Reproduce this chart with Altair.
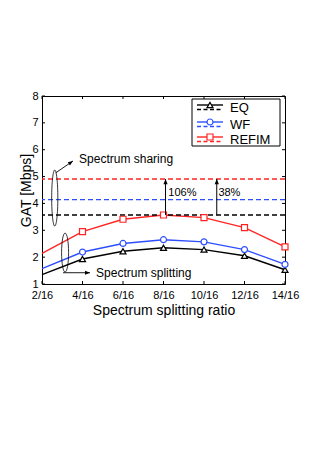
import altair as alt
import pandas as pd

# ---------------- data ----------------
ratios = [2, 4, 6, 8, 10, 12, 14]
series = ["EQ", "WF", "REFIM"]
eq_split = [1.35, 1.93, 2.22, 2.35, 2.28, 2.05, 1.53]
wf_split = [1.57, 2.19, 2.51, 2.65, 2.57, 2.28, 1.73]
refim_split = [2.14, 2.95, 3.41, 3.57, 3.47, 3.10, 2.38]
sharing = [3.57, 4.14, 4.91]          # EQ, WF, REFIM spectrum-sharing levels
y_ticks = [1, 2, 3, 4, 5, 6, 7, 8]
gain_x = [8.1, 10.63]
gain_from = [3.57, 3.57]
gain_to = [4.91, 4.91]
gain_labels = ["106%", "38%"]
gain_label_x = [8.24, 10.71]
gain_label_y = [4.40, 4.40]

colors = ["#000000", "#2f4fff", "#ff2424"]
shapes = ["triangle-up", "circle", "square"]
FONT = "Liberation Sans"
W, H = 243, 188

rows = []
for s, vals in zip(series, [eq_split, wf_split, refim_split]):
    for r, v in zip(ratios, vals):
        rows.append({"series": s, "ratio": r, "gat": v})
df = pd.DataFrame(rows)
df_pts = df[df["ratio"] >= 4]
df_share = pd.DataFrame({"series": series, "gat": sharing})

xs = alt.Scale(domain=[2, 14], nice=False, zero=False)
ys = alt.Scale(domain=[1, 8], nice=False, zero=False)
cs = alt.Scale(domain=series, range=colors)
ss = alt.Scale(domain=series, range=shapes)

X = lambda f: alt.X(f, type="quantitative", scale=xs)
Y = lambda f: alt.Y(f, type="quantitative", scale=ys)

lines = alt.Chart(df).mark_line(strokeWidth=1.4).encode(
    x=alt.X("ratio:Q", scale=xs,
            axis=alt.Axis(values=ratios, labelExpr="datum.value + '/16'",
                          title="Spectrum splitting ratio", labelPadding=5,
                          labelOverlap=False, labelFlush=False, labelBound=False,
                          titleY=26, titleX=W / 2, titleBaseline="middle",
                          titleAlign="center")),
    y=alt.Y("gat:Q", scale=ys,
            axis=alt.Axis(values=y_ticks, tickCount=8, format="d", title="GAT [Mbps]",
                          labelPadding=4, labelOverlap=False, labelFlush=False,
                          labelBound=False, labelSeparation=0,
                          titleX=-16, titleY=H / 2, titleAngle=-90,
                          titleBaseline="middle", titleAlign="center")),
    color=alt.Color("series:N", scale=cs, legend=None),
    detail="series:N",
)

points = alt.Chart(df_pts).mark_point(filled=False, fill="white", strokeWidth=1.2, size=36,
                                      opacity=1).encode(
    x=X("ratio"), y=Y("gat"),
    color=alt.Color("series:N", scale=cs, legend=None),
    shape=alt.Shape("series:N", scale=ss, legend=None),
)

share_lines = alt.Chart(df_share).mark_rule(strokeDash=[5, 3], strokeWidth=1.4).encode(
    y=Y("gat"),
    color=alt.Color("series:N", scale=cs, legend=None),
)

# inward ticks (box style)
df_yt = pd.DataFrame({"v": y_ticks})
df_xt = pd.DataFrame({"v": ratios})
tk = dict(color="black", strokeWidth=1)
ticks = [
    alt.Chart(df_yt).mark_rule(**tk).encode(y=Y("v"), x=alt.value(0), x2=alt.value(3)),
    alt.Chart(df_yt).mark_rule(**tk).encode(y=Y("v"), x=alt.value(W), x2=alt.value(W - 3)),
    alt.Chart(df_xt).mark_rule(**tk).encode(x=X("v"), y=alt.value(H), y2=alt.value(H - 3)),
    alt.Chart(df_xt).mark_rule(**tk).encode(x=X("v"), y=alt.value(0), y2=alt.value(3)),
]

# gain arrows
df_gain = pd.DataFrame({"x": gain_x, "y0": gain_from, "y1": gain_to,
                        "label": gain_labels, "lx": gain_label_x, "ly": gain_label_y})
ARROW = "M0,0L-0.4,1L0.4,1Z"
gain_rules = alt.Chart(df_gain).mark_rule(color="black", strokeWidth=1).encode(
    x=X("x"), y=Y("y0"), y2="y1:Q")
gain_heads = alt.Chart(df_gain).mark_point(shape=ARROW, filled=True, color="black",
                                           size=110, opacity=1).encode(x=X("x"), y=Y("y1"))
gain_text = alt.Chart(df_gain).mark_text(align="left", baseline="middle", font=FONT,
                                         fontSize=11, color="black").encode(
    x=X("lx"), y=Y("ly"), text="label:N")

# ellipse annotations
ann_names = ["Spectrum sharing", "Spectrum splitting"]
ell_x = [2.63, 3.14]
ell_y = [4.20, 2.17]
ptr_x0 = [2.68, 3.04]
ptr_y0 = [5.14, 1.42]
ptr_x1 = [3.53, 4.37]
ptr_y1 = [5.58, 1.42]
ptr_angle = [56, 90]
txt_x = [3.83, 4.67]
txt_y = [5.65, 1.41]

ann = []
ell_specs = [(3136, "M-0.11,0A0.11,1,0,1,1,0.11,0A0.11,1,0,1,1,-0.11,0Z"),
             (1521, "M-0.18,0A0.18,1,0,1,1,0.18,0A0.18,1,0,1,1,-0.18,0Z")]
for i in range(2):
    d = pd.DataFrame({"ex": [ell_x[i]], "ey": [ell_y[i]],
                      "x0": [ptr_x0[i]], "y0": [ptr_y0[i]],
                      "x1": [ptr_x1[i]], "y1": [ptr_y1[i]],
                      "tx": [txt_x[i]], "ty": [txt_y[i]], "t": [ann_names[i]]})
    size, path = ell_specs[i]
    ann.append(alt.Chart(d).mark_point(shape=path, filled=False, color="black",
                                       strokeWidth=0.8, size=size, opacity=1).encode(
        x=X("ex"), y=Y("ey")))
    ann.append(alt.Chart(d).mark_rule(color="black", strokeWidth=0.9).encode(
        x=X("x0"), y=Y("y0"), x2="x1:Q", y2="y1:Q"))
    ann.append(alt.Chart(d).mark_point(shape=ARROW, filled=True, color="black", size=100,
                                       angle=ptr_angle[i], opacity=1).encode(
        x=X("x1"), y=Y("y1")))
    ann.append(alt.Chart(d).mark_text(align="left", baseline="middle", font=FONT,
                                      fontSize=12, color="black").encode(
        x=X("tx"), y=Y("ty"), text="t:N"))

# custom legend (solid line + marker, dashed line underneath)
one = pd.DataFrame({"a": [0]})
leg = [alt.Chart(one).mark_rect(fill="white", stroke="black", strokeWidth=1).encode(
    x=alt.value(150), x2=alt.value(238), y=alt.value(3), y2=alt.value(50))]
leg_y = [9, 26, 41]
for i, s in enumerate(series):
    yy = leg_y[i]
    dl = pd.DataFrame({"name": [s]})
    leg.append(alt.Chart(dl).mark_rule(color=colors[i], strokeWidth=1.4).encode(
        x=alt.value(155), x2=alt.value(181), y=alt.value(yy)))
    leg.append(alt.Chart(dl).mark_rule(color=colors[i], strokeWidth=1.4, strokeDash=[4, 2.5]).encode(
        x=alt.value(155), x2=alt.value(181), y=alt.value(yy + 4.5)))
    leg.append(alt.Chart(dl).mark_point(shape=shapes[i], color=colors[i], filled=False,
                                        fill="white", strokeWidth=1.2, size=36, opacity=1).encode(
        x=alt.value(168), y=alt.value(yy)))
    leg.append(alt.Chart(dl).mark_text(align="left", baseline="middle", font=FONT, fontSize=13,
                                       color="black").encode(
        x=alt.value(188), y=alt.value(yy + 2.5), text="name:N"))

chart = alt.layer(lines, share_lines, points, *ticks, gain_rules, gain_heads, gain_text,
                  *ann, *leg).properties(
    width=W, height=H, autosize="none",
    padding={"left": 34, "top": 88, "right": 30, "bottom": 150},
    background="white",
).configure_view(stroke="black", strokeWidth=1).configure_axis(
    grid=False, domain=False, tickSize=0, labelFont=FONT, labelFontSize=11,
    labelColor="black", titleFont=FONT, titleFontSize=14, titleColor="black",
    titleFontWeight="normal", labelOverlap=False,
).configure_axisY(labelOverlap=False, labelBound=False, labelFlush=False)

chart.save("out.html", embed_options={"renderer": "svg", "actions": False})
